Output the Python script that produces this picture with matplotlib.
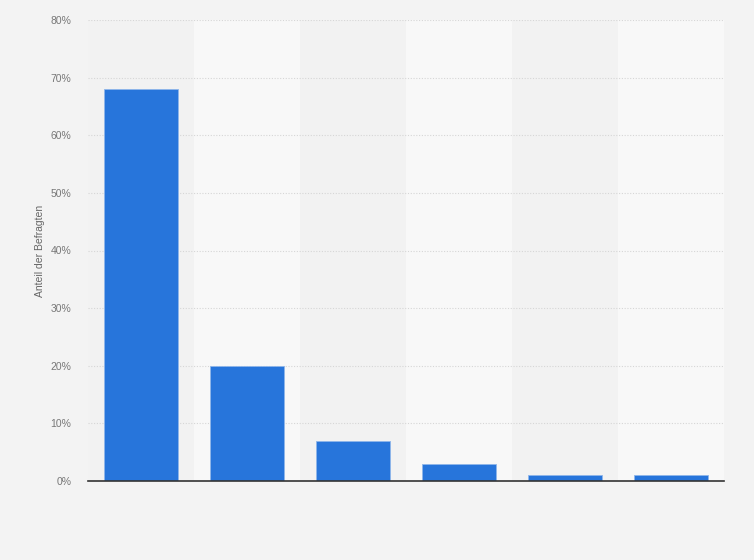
import numpy as np
import matplotlib.pyplot as plt
from matplotlib.ticker import PercentFormatter

plt.rcParams['font.family'] = ['Liberation Sans', 'DejaVu Sans']

# survey shares
values = [68, 20, 7, 3, 1, 1]
yticks = [0, 10, 20, 30, 40, 50, 60, 70, 80]

x = np.arange(len(values))

fig = plt.figure(figsize=(7.54, 5.6), dpi=100)
fig.patch.set_facecolor('#f3f3f3')
ax = fig.add_axes([88 / 754, 1 - 481 / 560, (724 - 88) / 754, (481 - 20) / 560])
ax.set_facecolor('#f3f3f3')

# alternating column bands
for i in x:
    ax.axvspan(i - 0.5, i + 0.5, color='#f2f2f2' if i % 2 == 0 else '#f8f8f8', zorder=0, lw=0)

ax.bar(x, values, width=0.69, color='#2775db', edgecolor='#8fb6ea', linewidth=0.6, zorder=3)

ax.set_xlim(-0.5, len(values) - 0.5)
ax.set_ylim(0, 80)
ax.set_yticks(yticks)
ax.yaxis.set_major_formatter(PercentFormatter(decimals=0))
ax.grid(axis='y', color='#d6d6d6', linestyle=(0, (1, 1.5)), linewidth=0.8, zorder=1)
ax.set_xticks([])

for side in ['top', 'right', 'left']:
    ax.spines[side].set_visible(False)
ax.spines['bottom'].set_color('#333333')
ax.spines['bottom'].set_linewidth(1.2)
ax.spines['bottom'].set_zorder(4)

ax.tick_params(axis='y', length=0, labelsize=7.5, labelcolor='#777777', pad=12)
ax.set_ylabel('Anteil der Befragten', fontsize=7.5, color='#666666')
ax.yaxis.set_label_coords(-(88 - 45) / 636, 0.5)

fig.savefig('out.png', dpi=100, facecolor=fig.get_facecolor())
